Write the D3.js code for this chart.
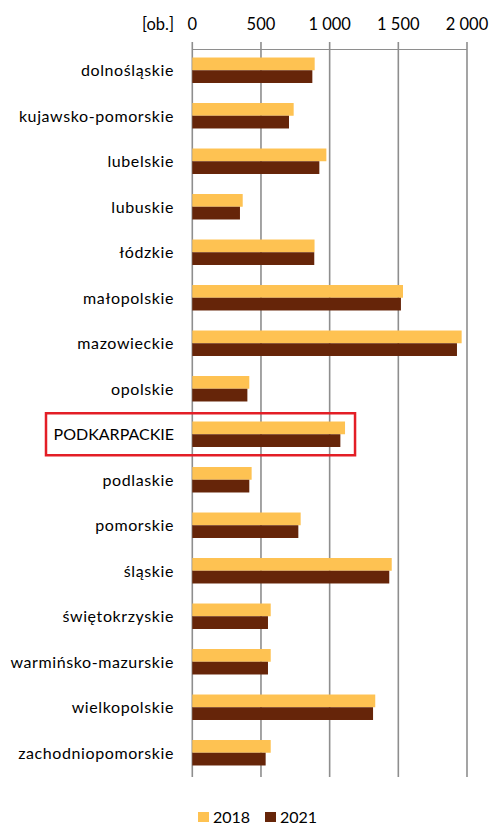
<!DOCTYPE html>
<html>
<head>
<meta charset="utf-8">
<script src="https://cdn.jsdelivr.net/npm/d3@7"></script>
<style>
  html, body { margin: 0; padding: 0; background: #fff; }
  svg { display: block; }
</style>
</head>
<body>
<div id="vis"></div>
<script>
// data
const regions = ["dolnośląskie", "kujawsko-pomorskie", "lubelskie", "lubuskie", "łódzkie",
  "małopolskie", "mazowieckie", "opolskie", "PODKARPACKIE", "podlaskie", "pomorskie",
  "śląskie", "świętokrzyskie", "warmińsko-mazurskie", "wielkopolskie", "zachodniopomorskie"];
const values2018 = [891, 738, 976, 367, 890, 1534, 1961, 415, 1112, 432, 789, 1452, 571, 571, 1332, 571];
const values2021 = [874, 704, 925, 347, 888, 1519, 1927, 401, 1078, 415, 772, 1434, 551, 551, 1316, 534];
const years = ["2018", "2021"];
const xTicks = [0, 500, 1000, 1500, 2000];
const highlighted = "PODKARPACKIE";

const colors = { "2018": "#FEC252", "2021": "#662509" };
const gridColor = "#8e8e8e";
const font = "Lato, 'Open Sans', sans-serif";

const width = 492, height = 827;

var svg = d3.select("#vis")
  .append("svg")
  .attr("width", width)
  .attr("height", height)
  .style("font-family", font);

// scales
var x = d3.scaleLinear()
  .domain([0, 2000])
  .range([192.3, 467]);

var y = d3.scaleBand()
  .domain(regions)
  .range([47.5, 775.5])
  .paddingInner(0.44)
  .paddingOuter(0.22);

var yInner = d3.scaleBand()
  .domain(years)
  .range([0, y.bandwidth()]);

// vertical gridlines + tick marks above
svg.append("g")
  .selectAll("line")
  .data(xTicks)
  .enter()
  .append("line")
    .attr("x1", d => x(d))
    .attr("x2", d => x(d))
    .attr("y1", 42)
    .attr("y2", 777)
    .attr("stroke", gridColor)
    .attr("stroke-width", 1.6);

// top axis line
svg.append("line")
  .attr("x1", x(0))
  .attr("x2", x(2000))
  .attr("y1", 49.5)
  .attr("y2", 49.5)
  .attr("stroke", gridColor)
  .attr("stroke-width", 1.2);

// tick labels
svg.append("g")
  .selectAll("text")
  .data(xTicks)
  .enter()
  .append("text")
    .attr("x", d => x(d))
    .attr("y", 30)
    .attr("text-anchor", "middle")
    .style("font-size", "16.5px")
    .style("fill", "#000")
    .text(d => d3.format(",")(d).replace(",", " "));

svg.append("text")
  .attr("x", 174)
  .attr("y", 30)
  .attr("text-anchor", "end")
  .style("font-size", "16.5px")
  .text("[ob.]");

// bars
var rows = regions.map((r, i) => ({ region: r, "2018": values2018[i], "2021": values2021[i] }));

var group = svg.append("g")
  .selectAll("g")
  .data(rows)
  .enter()
  .append("g")
    .attr("transform", d => "translate(0," + y(d.region) + ")");

group.selectAll("rect")
  .data(d => years.map(k => ({ year: k, value: d[k] })))
  .enter()
  .append("rect")
    .attr("x", x(0))
    .attr("y", d => yInner(d.year))
    .attr("width", d => x(d.value) - x(0))
    .attr("height", yInner.bandwidth())
    .attr("fill", d => colors[d.year]);

// category labels
svg.append("g")
  .selectAll("text")
  .data(regions)
  .enter()
  .append("text")
    .attr("x", 174)
    .attr("y", d => y(d) + y.bandwidth() / 2)
    .attr("dy", "0.36em")
    .attr("text-anchor", "end")
    .style("font-size", "16px")
    .style("letter-spacing", d => d == highlighted ? "0px" : "0.6px")
    .style("fill", "#000")
    .text(d => d);

// red frame around the highlighted region
var hi = regions.indexOf(highlighted);
var hiMax = Math.max(values2018[hi], values2021[hi]);
var hiCenter = y(highlighted) + y.bandwidth() / 2;
svg.append("rect")
  .attr("x", 46)
  .attr("y", hiCenter - 21)
  .attr("width", x(hiMax) + 10 - 46)
  .attr("height", 42)
  .attr("fill", "none")
  .attr("stroke", "#E31E26")
  .attr("stroke-width", 2.5);

// legend
var legend = svg.append("g")
  .selectAll("g")
  .data(years)
  .enter()
  .append("g")
    .attr("transform", (d, i) => "translate(" + (198 + i * 67) + ",812)");

legend.append("rect")
  .attr("width", 11)
  .attr("height", 10)
  .attr("fill", d => colors[d]);

legend.append("text")
  .attr("x", 15)
  .attr("y", 11)
  .style("font-size", "16px")
  .text(d => d);
</script>
</body>
</html>
